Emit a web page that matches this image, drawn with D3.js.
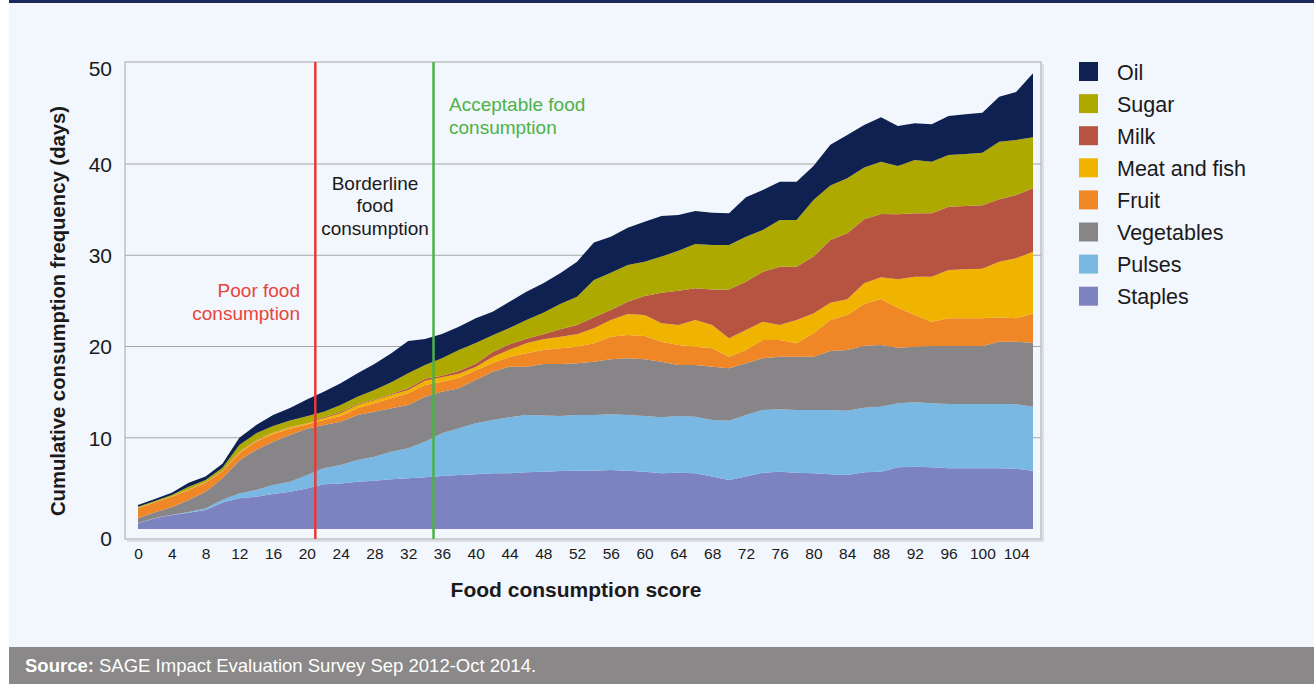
<!DOCTYPE html>
<html>
<head>
<meta charset="utf-8">
<script src="https://cdn.jsdelivr.net/npm/d3@7"></script>
<style>
  body { margin: 0; background: #fff; }
  svg { display: block; font-family: "Liberation Sans", Arial, sans-serif; }
</style>
</head>
<body>
<svg id="chart" width="1314" height="684"></svg>
<script>
// food consumption score (x) - one sample every 2 points
const scores = [0, 2, 4, 6, 8, 10, 12, 14, 16, 18, 20, 22, 24, 26, 28, 30, 32, 34, 36, 38, 40, 42, 44, 46, 48, 50, 52, 54,
  56, 58, 60, 62, 64, 66, 68, 70, 72, 74, 76, 78, 80, 82, 84, 86, 88, 90, 92, 94, 96, 98, 100, 102, 104, 106];

// days per week-period for each food group
const staples = [0.62, 1.17, 1.53, 1.79, 2.08, 2.90, 3.36, 3.54, 3.84, 4.09, 4.45, 4.90, 5.00, 5.19, 5.30, 5.44, 5.55, 5.66,
  5.81, 5.92, 5.99, 6.10, 6.10, 6.21, 6.28, 6.36, 6.39, 6.39, 6.47, 6.39, 6.28, 6.10, 6.17, 6.10, 5.74, 5.37, 5.74, 6.17,
  6.28, 6.17, 6.10, 6.00, 5.92, 6.21, 6.28, 6.76, 6.83, 6.76, 6.65, 6.65, 6.65, 6.65, 6.61, 6.39];
const pulses = [0.03, 0.03, 0.02, 0.07, 0.18, 0.30, 0.54, 0.73, 0.98, 1.10, 1.45, 1.75, 2.01, 2.37, 2.63, 3.03, 3.29, 3.91,
  4.67, 5.11, 5.59, 5.85, 6.14, 6.28, 6.17, 6.02, 6.10, 6.10, 6.10, 6.10, 6.10, 6.14, 6.21, 6.21, 6.21, 6.50, 6.75, 6.87,
  6.83, 6.87, 6.94, 7.04, 7.05, 7.09, 7.13, 7.01, 7.05, 7.01, 7.05, 7.05, 7.05, 7.05, 7.05, 7.02];
const vegetables = [0.52, 0.63, 0.82, 1.32, 1.83, 2.35, 3.60, 4.39, 4.75, 5.11, 5.10, 4.75, 4.75, 4.93, 4.93, 4.75, 4.75, 4.93,
  4.57, 4.39, 4.75, 5.29, 5.55, 5.30, 5.63, 5.70, 5.67, 5.85, 6.02, 6.21, 6.21, 6.10, 5.59, 5.66, 5.84, 5.74, 5.67, 5.66,
  5.78, 5.85, 5.85, 6.46, 6.65, 6.79, 6.75, 6.10, 6.10, 6.28, 6.35, 6.35, 6.35, 6.83, 6.87, 7.01];
const fruit = [1.09, 1.09, 1.17, 1.09, 0.99, 0.75, 0.80, 0.94, 0.83, 0.70, 0.45, 0.55, 0.62, 0.73, 0.91, 1.10, 1.28, 1.28,
  1.10, 1.16, 1.06, 0.95, 1.06, 1.46, 1.54, 1.72, 1.82, 2.01, 2.49, 2.56, 2.56, 2.19, 2.19, 2.01, 2.01, 1.28, 1.46, 2.01,
  1.82, 1.46, 2.55, 3.40, 3.83, 4.57, 5.04, 4.39, 3.47, 2.67, 3.04, 3.04, 3.04, 2.67, 2.56, 3.21];
const meatFish = [0.04, 0.03, 0.04, 0.05, 0.04, 0.05, 0.15, 0.10, 0.15, 0.15, 0.10, 0.18, 0.30, 0.37, 0.33, 0.36, 0.37, 0.48,
  0.47, 0.44, 0.36, 0.66, 0.80, 1.10, 1.17, 1.28, 1.35, 1.64, 1.82, 2.30, 2.30, 2.01, 2.20, 2.92, 2.56, 2.01, 2.18, 2.01,
  1.65, 2.55, 2.19, 1.90, 1.72, 2.26, 2.38, 3.10, 4.20, 4.93, 5.29, 5.37, 5.44, 6.10, 6.58, 6.76];
const milk = [0.02, 0.02, 0.02, 0.03, 0.03, 0.05, 0.05, 0.05, 0.05, 0.05, 0.05, 0.11, 0.14, 0.11, 0.10, 0.12, 0.18, 0.21,
  0.18, 0.29, 0.37, 0.55, 0.59, 0.51, 0.54, 0.80, 1.03, 1.21, 1.10, 1.35, 2.08, 3.36, 3.76, 3.47, 3.90, 5.36, 5.30, 5.48,
  6.39, 5.85, 6.22, 6.87, 7.23, 7.02, 6.94, 7.12, 6.94, 6.94, 6.94, 6.94, 6.94, 6.83, 6.93, 6.94];
const sugar = [0.13, 0.10, 0.13, 0.29, 0.22, 0.30, 0.70, 0.73, 0.70, 0.70, 0.75, 0.62, 0.77, 0.80, 1.03, 1.27, 1.64, 1.50,
  1.90, 2.31, 2.26, 1.82, 1.79, 2.04, 2.38, 2.78, 3.10, 4.09, 4.09, 4.02, 3.77, 3.95, 4.38, 4.86, 4.86, 4.86, 4.94, 4.57,
  5.11, 5.11, 6.20, 5.98, 6.03, 5.69, 5.74, 5.30, 5.85, 5.67, 5.67, 5.70, 5.77, 6.32, 6.03, 5.59];
const oil = [0.18, 0.22, 0.25, 0.44, 0.37, 0.45, 0.80, 0.92, 1.20, 1.35, 1.85, 2.19, 2.37, 2.56, 2.85, 3.18, 3.54, 2.85,
  2.67, 2.55, 2.71, 2.60, 2.88, 3.10, 3.21, 3.36, 3.84, 4.11, 3.95, 4.09, 4.38, 4.45, 3.91, 3.62, 3.55, 3.47, 4.31, 4.38,
  4.20, 4.20, 3.73, 4.45, 4.75, 4.64, 4.85, 4.38, 4.02, 4.09, 4.27, 4.34, 4.39, 4.93, 5.27, 7.02];

const groups = ['Staples', 'Pulses', 'Vegetables', 'Fruit', 'Meat and fish', 'Milk', 'Sugar', 'Oil'];
const groupValues = [staples, pulses, vegetables, fruit, meatFish, milk, sugar, oil];
const colors = ['#7d83bf', '#78b8e3', '#878587', '#ef8726', '#f0b400', '#b65441', '#aea900', '#0f2150'];

const yTicks = [0, 10, 20, 30, 40, 50];
const xTicks = [0, 4, 8, 12, 16, 20, 24, 28, 32, 36, 40, 44, 48, 52, 56, 60, 64, 68, 72, 76, 80, 84, 88, 92, 96, 100, 104];

// cut-offs between consumption groups
const poorCut = 21;
const borderlineCut = 35;

const svg = d3.select('#chart');
const width = 1314, height = 684;

// page panel
svg.append('rect').attr('x', 9).attr('y', 0).attr('width', width - 9).attr('height', height).attr('fill', '#f2f6fd');
svg.append('rect').attr('x', 9).attr('y', 0).attr('width', width - 9).attr('height', 3).attr('fill', '#1b2a5a');

const frame = { left: 125, right: 1041, top: 62, bottom: 539 };

const x = d3.scaleLinear().domain([0, 106]).range([138, 1033]);
const y = d3.scaleLinear().domain([0, 50]).range([529, 72.75]);

// gridlines
svg.append('g')
  .selectAll('line')
  .data(yTicks.filter(d => d > 0 && d < 50))
  .join('line')
  .attr('x1', frame.left).attr('x2', frame.right)
  .attr('y1', d => y(d)).attr('y2', d => y(d))
  .attr('stroke', '#a6a6a6').attr('stroke-width', 1.2);

// stacked areas
const rows = scores.map((s, i) => {
  const r = { score: s };
  groups.forEach((g, j) => { r[g] = groupValues[j][i]; });
  return r;
});
const series = d3.stack().keys(groups)(rows);
const area = d3.area()
  .x(d => x(d.data.score))
  .y0(d => y(d[0]))
  .y1(d => y(d[1]));

svg.append('g')
  .selectAll('path')
  .data(series)
  .join('path')
  .attr('d', area)
  .attr('fill', (d, i) => colors[i]);

// frame
svg.append('path')
  .attr('d', `M${frame.left + 2},${frame.bottom + 2}H${frame.right + 2}V${frame.top + 2}`)
  .attr('fill', 'none').attr('stroke', '#d4d6dc').attr('stroke-width', 1.5);
svg.append('rect')
  .attr('x', frame.left).attr('y', frame.top)
  .attr('width', frame.right - frame.left).attr('height', frame.bottom - frame.top)
  .attr('fill', 'none').attr('stroke', '#b3b3b3').attr('stroke-width', 1.2);

// cut-off lines
svg.append('line')
  .attr('x1', x(poorCut)).attr('x2', x(poorCut)).attr('y1', frame.top).attr('y2', frame.bottom)
  .attr('stroke', '#e63b35').attr('stroke-width', 2.5);
svg.append('line')
  .attr('x1', x(borderlineCut)).attr('x2', x(borderlineCut)).attr('y1', frame.top).attr('y2', frame.bottom)
  .attr('stroke', '#4cb247').attr('stroke-width', 2.5);

// axes
const yAxis = svg.append('g')
  .attr('transform', 'translate(112,0)')
  .call(d3.axisLeft(y).tickValues(yTicks).tickSize(0).tickPadding(0));
yAxis.select('.domain').remove();
yAxis.selectAll('text')
  .attr('font-family', '"Liberation Sans", Arial, sans-serif')
  .attr('font-size', 21).attr('fill', '#1a1a1a')
  .attr('dy', d => d === 0 ? '0.78em' : (d === 50 ? '0.12em' : '0.35em'));

const xAxis = svg.append('g')
  .attr('transform', 'translate(0,548)')
  .call(d3.axisBottom(x).tickValues(xTicks).tickSize(0).tickPadding(0));
xAxis.select('.domain').remove();
xAxis.selectAll('text')
  .attr('font-family', '"Liberation Sans", Arial, sans-serif')
  .attr('font-size', 15.5).attr('fill', '#1a1a1a');

// axis titles
svg.append('text')
  .attr('x', 576).attr('y', 597)
  .attr('text-anchor', 'middle')
  .attr('font-size', 21).attr('font-weight', 'bold').attr('fill', '#1a1a1a')
  .text('Food consumption score');
svg.append('text')
  .attr('transform', 'translate(65,311) rotate(-90)')
  .attr('text-anchor', 'middle')
  .attr('font-size', 20.3).attr('font-weight', 'bold').attr('fill', '#1a1a1a')
  .text('Cumulative consumption frequency (days)');

// annotations
const notes = [
  { lines: ['Poor food', 'consumption'], x: 300, y: 297, anchor: 'end', color: '#e8443a' },
  { lines: ['Borderline', 'food', 'consumption'], x: 375, y: 189.5, anchor: 'middle', color: '#1a1a1a' },
  { lines: ['Acceptable food', 'consumption'], x: 449, y: 111, anchor: 'start', color: '#4cb247' }
];
notes.forEach(n => {
  svg.append('text')
    .attr('x', n.x).attr('y', n.y)
    .attr('text-anchor', n.anchor)
    .attr('font-size', 19).attr('fill', n.color)
    .selectAll('tspan')
    .data(n.lines)
    .join('tspan')
    .attr('x', n.x)
    .attr('dy', (d, i) => i === 0 ? 0 : 22.5)
    .text(d => d);
});

// legend, top entry is the top of the stack
const legend = svg.append('g').attr('transform', 'translate(1079,62)');
const legendItems = groups.map((g, i) => ({ name: g, color: colors[i] })).reverse();
const item = legend.selectAll('g')
  .data(legendItems)
  .join('g')
  .attr('transform', (d, i) => `translate(0,${i * 32.1})`);
item.append('rect')
  .attr('width', 19).attr('height', 19)
  .attr('fill', d => d.color);
item.append('text')
  .attr('x', 38).attr('y', 17.5)
  .attr('font-size', 21.5).attr('fill', '#1a1a1a')
  .text(d => d.name);

// source bar
svg.append('rect').attr('x', 9).attr('y', 647).attr('width', width - 9).attr('height', height - 647).attr('fill', '#8a8889');
const src = svg.append('text').attr('x', 25).attr('y', 672).attr('font-size', 18.5).attr('fill', '#fff');
src.append('tspan').attr('font-weight', 'bold').text('Source:');
src.append('tspan').text(' SAGE Impact Evaluation Survey Sep 2012-Oct 2014.');
</script>
</body>
</html>
